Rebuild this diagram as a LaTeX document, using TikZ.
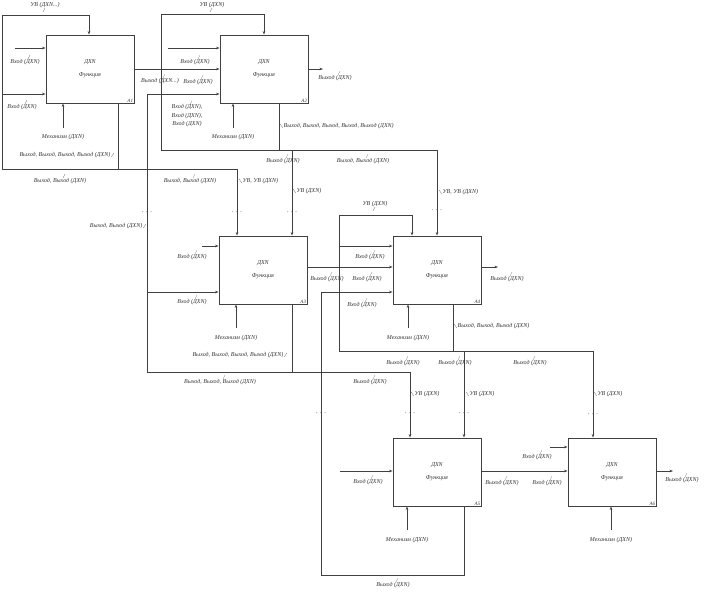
\documentclass[tikz,border=0pt]{standalone}
\usepackage{fontspec}
\setmainfont{Liberation Serif}
\usetikzlibrary{arrows.meta}
\newcommand\LabU[3]{\node[lb] (#1) at (#2) {#3}; \draw[tk] (#1.north) ++(3,0.5) -- ++(2,-4);}
\newcommand\LabD[3]{\node[lb] (#1) at (#2) {#3}; \draw[tk] (#1.south) ++(0,-0.5) -- ++(-2,4);}
\newcommand\LabR[3]{\node[lb,anchor=west] (#1) at (#2) {#3}; \draw[tk] (#1.west) ++(-0.3,2) -- ++(-2.5,-4);}
\newcommand\LabL[3]{\node[lb,anchor=east] (#1) at (#2) {#3}; \draw[tk] (#1.east) ++(0.3,2) -- ++(2.5,-4);}
\begin{document}
\begin{tikzpicture}[x=1pt,y=-1pt,
  ln/.style={draw=black!75, line width=0.7pt},
  ar/.style={ln, -{Stealth[length=3.5pt,width=2.6pt]}},
  fbox/.style={draw=black!75, line width=0.9pt, minimum width=88pt, minimum height=68pt, inner sep=0pt, fill=white, align=center, font=\fontsize{6}{13}\selectfont\itshape, text=black!80},
  lb/.style={font=\fontsize{6}{8.5}\selectfont\itshape, text=black!80, inner sep=0.5pt, align=center},
  tk/.style={draw=black!55, line width=0.3pt},
  dts/.style={font=\fontsize{9}{9}\selectfont, inner sep=0pt, text=black!75},
  num/.style={font=\fontsize{5}{6}\selectfont\itshape, inner sep=1.2pt, anchor=south east, text=black!80}
]
\useasboundingbox (0,0) rectangle (707,592);
% boxes
\node[fbox] (a1) at (90,69) {ДХN\\Функция};
\node[fbox] (a2) at (264,69) {ДХN\\Функция};
\node[fbox] (a3) at (263,270) {ДХN\\Функция};
\node[fbox] (a4) at (437,270) {ДХN\\Функция};
\node[fbox] (a5) at (437,472) {ДХN\\Функция};
\node[fbox] (a6) at (612,472) {ДХN\\Функция};
\node[num] at (a1.south east) {А1};
\node[num] at (a2.south east) {А2};
\node[num] at (a3.south east) {А3};
\node[num] at (a4.south east) {А4};
\node[num] at (a5.south east) {А5};
\node[num] at (a6.south east) {А6};
% coordinates
\coordinate (i11) at (15,48);
\coordinate (m1) at (63,128);
\coordinate (i21) at (168,48);
\coordinate (m2) at (233,128);
\coordinate (o2) at (323,69);
\coordinate (i31) at (202,246);
\coordinate (m3) at (236,328);
\coordinate (m4) at (408,328);
\coordinate (o4) at (498,267);
\coordinate (i51) at (340,471);
\coordinate (m5) at (407,530);
\coordinate (i61) at (550,447);
\coordinate (m6) at (611,530);
\coordinate (o6) at (673,471);
% A1
\draw[ar] (a1.south -| 118,0) -- (118,169) -- (2,169) -- (2,15) -- (89,15) -- (a1.north -| 89,0);
\draw[ar] (118,169) -- (237,169) -- (a3.north -| 237,0);
\draw[ar] (i11) -- (a1.west |- i11);
\draw[ar] (2,94) -- (a1.west |- 0,94);
\draw[ar] (m1) -- (a1.south -| m1);
\draw[ar] (a1.east |- 0,69) -- (a2.west |- 0,69);
% A2
\draw[ar] (a2.south -| 279,0) -- (279,150) -- (161,150) -- (161,14) -- (264,14) -- (a2.north -| 264,0);
\draw[ar] (279,150) -- (437,150) -- (a4.north -| 437,0);
\draw[ar] (292,150) -- (a3.north -| 292,0);
\draw[ar] (i21) -- (a2.west |- i21);
\draw[ar] (147,372) -- (147,94) -- (a2.west |- 0,94);
\draw[ar] (m2) -- (a2.south -| m2);
\draw[ar] (a2.east |- o2) -- (o2);
% A3
\draw[ar] (i31) -- (a3.west |- i31);
\draw[ar] (147,292) -- (a3.west |- 0,292);
\draw[ln] (a3.south -| 292,0) -- (292,372) -- (147,372);
\draw[ar] (292,372) -- (410,372) -- (a5.north -| 410,0);
\draw[ar] (m3) -- (a3.south -| m3);
\draw[ar] (a3.east |- 0,267) -- (a4.west |- 0,267);
% A4
\draw[ar] (a4.south -| 453,0) -- (453,351) -- (339,351) -- (339,215) -- (412,215) -- (a4.north -| 412,0);
\draw[ar] (339,246) -- (a4.west |- 0,246);
\draw[ar] (453,351) -- (593,351) -- (a6.north -| 593,0);
\draw[ar] (464,351) -- (a5.north -| 464,0);
\draw[ar] (m4) -- (a4.south -| m4);
\draw[ar] (a4.east |- o4) -- (o4);
% A5
\draw[ar] (i51) -- (a5.west |- i51);
\draw[ar] (a5.south -| 464,0) -- (464,575) -- (321,575) -- (321,292) -- (a4.west |- 0,292);
\draw[ar] (m5) -- (a5.south -| m5);
\draw[ar] (a5.east |- 0,471) -- (a6.west |- 0,471);
% A6
\draw[ar] (i61) -- (a6.west |- i61);
\draw[ar] (m6) -- (a6.south -| m6);
\draw[ar] (a6.east |- o6) -- (o6);
% dots
\foreach \p/\n in {{147,212}/d1,{237,212}/d2,{292,212}/d3,{437,210}/d4,{321,413}/d5,{410,413}/d6,{464,413}/d7,{593,414}/d8}
  \node[dts] (\n) at (\p) {$\cdots$};
% labels below horizontal lines
\LabU{l1}{25,62}{Вход (ДХN)}
\LabU{l2}{22,107}{Вход (ДХN)}
\LabU{l3}{60,181}{Выход, Выход (ДХN)}
\LabU{l4}{160,81}{Выход (ДХN...)}
\LabU{l5}{195,62}{Вход (ДХN)}
\LabU{l6}{198,82}{Вход (ДХN)}
\LabU{l7}{187,116}{Вход (ДХN),\\Вход (ДХN),\\Вход (ДХN)}
\LabU{l8}{335,78}{Выход (ДХN)}
\LabU{l9}{283,161}{Выход (ДХN)}
\LabU{l10}{363,161}{Выход, Выход (ДХN)}
\LabU{l11}{190,181}{Выход, Выход (ДХN)}
\LabU{l12}{192,257}{Вход (ДХN)}
\LabU{l13}{192,302}{Вход (ДХN)}
\LabU{l14}{220,382}{Выход, Выход, Выход (ДХN)}
\LabU{l15}{327,279}{Выход (ДХN)}
\LabU{l16}{367,279}{Вход (ДХN)}
\LabU{l17}{370,257}{Вход (ДХN)}
\LabU{l18}{362,305}{Вход (ДХN)}
\LabU{l19}{507,279}{Выход (ДХN)}
\LabU{l20}{403,363}{Выход (ДХN)}
\LabU{l21}{455,363}{Выход (ДХN)}
\LabU{l22}{530,363}{Выход (ДХN)}
\LabU{l23}{370,382}{Выход (ДХN)}
\LabU{l24}{368,482}{Вход (ДХN)}
\LabU{l25}{393,585}{Выход (ДХN)}
\LabU{l26}{502,483}{Выход (ДХN)}
\LabU{l27}{547,483}{Вход (ДХN)}
\LabU{l28}{537,457}{Вход (ДХN)}
\LabU{l29}{682,480}{Выход (ДХN)}
% labels above lines
\LabD{u1}{45,5}{УВ (ДХN...)}
\LabD{u2}{212,5}{УВ (ДХN)}
\LabD{u3}{375,204}{УВ (ДХN)}
% labels beside vertical lines
\LabR{r1}{283,126}{Выход, Выход, Выход, Выход, Выход (ДХN)}
\LabR{r2}{242,181}{УВ, УВ (ДХN)}
\LabR{r3}{296,191}{УВ (ДХN)}
\LabR{r4}{442,192}{УВ, УВ (ДХN)}
\LabR{r5}{457,326}{Выход, Выход, Выход (ДХN)}
\LabR{r6}{414,394}{УВ (ДХN)}
\LabR{r7}{469,394}{УВ (ДХN)}
\LabR{r8}{597,394}{УВ (ДХN)}
\LabL{k1}{111,155}{Выход, Выход, Выход, Выход (ДХN)}
\LabL{k2}{143,226}{Выход, Выход (ДХN)}
\LabL{k3}{284,355}{Выход, Выход, Выход, Выход (ДХN)}
% mechanism labels
\node[lb] (n1) at (63,137) {Механизм (ДХN)};
\node[lb] (n2) at (233,137) {Механизм (ДХN)};
\node[lb] (n3) at (236,338) {Механизм (ДХN)};
\node[lb] (n4) at (408,338) {Механизм (ДХN)};
\node[lb] (n5) at (407,540) {Механизм (ДХN)};
\node[lb] (n6) at (611,540) {Механизм (ДХN)};
\end{tikzpicture}
\end{document}
